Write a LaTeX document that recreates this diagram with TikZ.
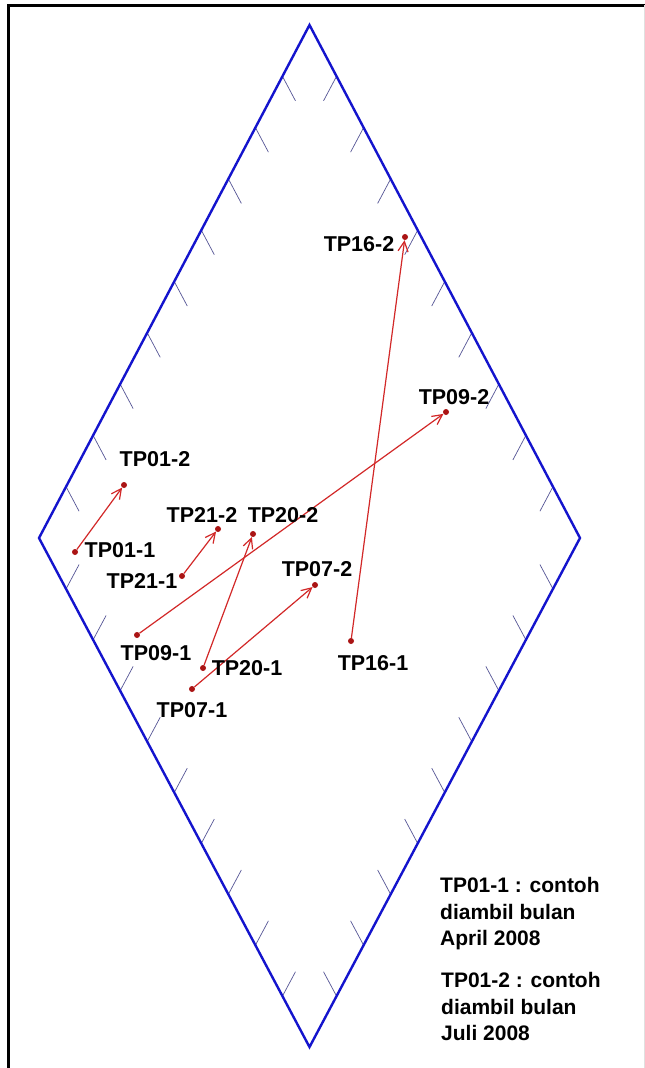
\documentclass[tikz,border=0pt]{standalone}
\usepackage{fontspec}
\setmainfont{Liberation Sans}
\usetikzlibrary{arrows.meta,calc}

\definecolor{rimblue}{RGB}{20,20,205}
\definecolor{hatchblue}{RGB}{85,85,150}
\definecolor{arrowred}{RGB}{210,40,40}
\definecolor{dotred}{RGB}{170,20,20}

\tikzset{
  rim/.style={draw=rimblue, line width=2.4pt, line join=miter},
  hatch/.style={draw=hatchblue, line width=0.7pt},
  sample/.style={circle, fill=dotred, inner sep=0pt, minimum size=6pt},
  tag/.style={font=\fontsize{21.5}{25}\selectfont\bfseries, inner sep=0pt},
  legend/.style={font=\fontsize{21}{26.7}\selectfont\bfseries, inner sep=0pt,
                 align=left, anchor=north west},
  move/.style={draw=arrowred, line width=1.2pt,
               -{Straight Barb[length=10pt,width=10pt,line width=1.2pt]}}
}

\begin{document}
\begin{tikzpicture}[x=1pt,y=-1pt]
\useasboundingbox (0,0) rectangle (645,1068);
\fill[white] (0,0) rectangle (645,1068);

% frame
\draw[black, line width=3pt] (8,1068) -- (8,5) -- (645,5);
\draw[black!12, line width=1pt] (644,5) -- (644,1068);

% diamond
\coordinate (T) at (309.5,25);
\coordinate (L) at (39,538);
\coordinate (R) at (580,538);
\coordinate (B) at (309.5,1047);

\foreach \k in {1,...,9} {
  \draw[hatch] ($(T)!\k/10!(L)$) -- ++(13,24.5);
  \draw[hatch] ($(T)!\k/10!(R)$) -- ++(-13,24.5);
  \draw[hatch] ($(L)!\k/10!(B)$) -- ++(13,-24.3);
  \draw[hatch] ($(R)!\k/10!(B)$) -- ++(-13,-24.3);
}
\draw[rim] (T) -- (R) -- (B) -- (L) -- cycle;

% sample points
\node[sample] (p011) at (75,552) {};
\node[sample] (p012) at (124,485) {};
\node[sample] (p211) at (182,576) {};
\node[sample] (p212) at (218,529) {};
\node[sample] (p202) at (253,534) {};
\node[sample] (p091) at (137,635) {};
\node[sample] (p201) at (203,668) {};
\node[sample] (p071) at (192,689) {};
\node[sample] (p072) at (315,585) {};
\node[sample] (p161) at (351,641) {};
\node[sample] (p162) at (405,237) {};
\node[sample] (p092) at (446,412) {};

% shifts between the two sampling campaigns
\draw[move] (p011) -- (p012);
\draw[move] (p211) -- (p212);
\draw[move] (p091) -- (p092);
\draw[move] (p201) -- (p202);
\draw[move] (p071) -- (p072);
\draw[move] (p161) -- (p162);

% point labels
\node[tag] (t012) at (155,459) {TP01-2};
\node[tag] (t011) at (120,550) {TP01-1};
\node[tag] (t211) at (142,581) {TP21-1};
\node[tag] (t212) at (202,515) {TP21-2};
\node[tag] (t202) at (283,515) {TP20-2};
\node[tag] (t091) at (156,653) {TP09-1};
\node[tag] (t201) at (247,668) {TP20-1};
\node[tag] (t071) at (192,710) {TP07-1};
\node[tag] (t072) at (317,569) {TP07-2};
\node[tag] (t161) at (373,663) {TP16-1};
\node[tag] (t162) at (359,244) {TP16-2};
\node[tag] (t092) at (454,397) {TP09-2};

% legend
\node[legend] (leg1) at (440,877) {TP01-1 : contoh\\diambil bulan\\April 2008};
\node[legend] (leg2) at (441,972) {TP01-2 : contoh\\diambil bulan\\Juli 2008};
\end{tikzpicture}
\end{document}
